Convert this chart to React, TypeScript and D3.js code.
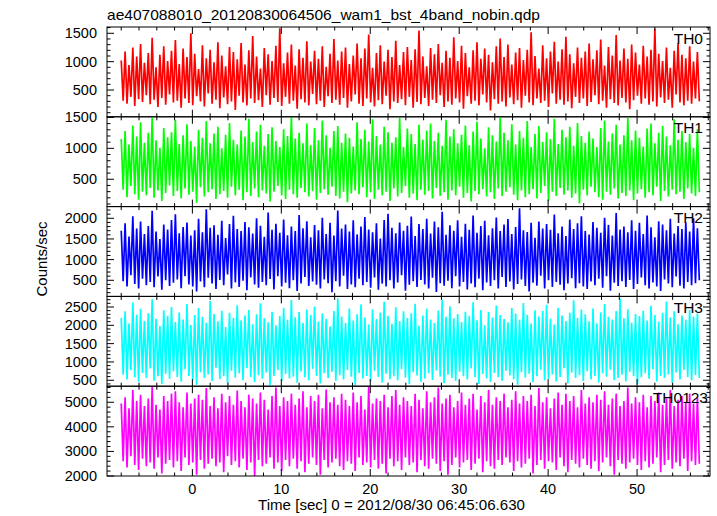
import { line, range, scaleLinear } from "d3";

const WIDTH = 717;
const HEIGHT = 516;
const PLOT = { left: 107, right: 710, top: 27, bottom: 476 };
const FONT = "'Liberation Sans', Arial, Helvetica, sans-serif";

const TITLE = "ae407088010_20120830064506_wam1_bst_4band_nobin.qdp";
const X_LABEL = "Time [sec] 0 = 2012/08/30 06:45:06.630";
const Y_LABEL = "Counts/sec";

const TIME_START = -8;
const TIME_END = 57;
const X_DOMAIN = [-9.6, 58.2];
const X_TICKS = [0, 10, 20, 30, 40, 50];

const BANDS = ["TH0", "TH1", "TH2", "TH3", "TH0123"];
const COLORS = ["#ff0000", "#00ff00", "#0000ff", "#00ffff", "#ff00ff"];
const Y_DOMAINS = [
  [28, 1611],
  [58, 1510],
  [110, 2283],
  [338, 2789],
  [2000, 5653],
];
const Y_TICKS = [
  [500, 1000, 1500],
  [500, 1000, 1500],
  [500, 1000, 1500, 2000],
  [500, 1000, 1500, 2000, 2500],
  [2000, 3000, 4000, 5000],
];
const Y_MINOR = [100, 100, 100, 100, 200];

// counts/sec, evenly spaced from -8 s to 57 s (read as the swing of the trace)
const TH0 = [
  1020, 310, 1180, 260, 940, 380, 1250, 220, 1090, 340,
  1310, 290, 980, 410, 1150, 250, 1420, 330, 900, 200,
  1120, 360, 1270, 240, 1010, 420, 1190, 280, 1380, 310,
  960, 190, 1230, 350, 1080, 270, 1500, 230, 1140, 390,
  870, 300, 1290, 210, 1060, 440, 1210, 260, 990, 330,
  1340, 180, 1110, 370, 920, 250, 1260, 300, 1170, 150,
  1040, 400, 1330, 280, 950, 230, 1200, 350, 1450, 270,
  1090, 320, 880, 200, 1240, 410, 1130, 240, 1010, 360,
  1280, 290, 1590, 220, 970, 380, 1160, 260, 1300, 310,
  930, 170, 1220, 340, 1070, 280, 1360, 230, 1000, 430,
  1190, 250, 1050, 310, 1270, 200, 910, 390, 1140, 270,
  1400, 330, 1020, 240, 1180, 360, 1250, 190, 960, 300,
  1110, 420, 1320, 260, 1060, 220, 1230, 350, 1480, 280,
  890, 210, 1150, 320, 1290, 250, 1000, 400, 1210, 160,
  1080, 300, 1370, 270, 940, 340, 1170, 230, 1260, 380,
  1030, 190, 1220, 290, 1550, 250, 1090, 360, 920, 220,
  1240, 330, 1130, 270, 1310, 410, 980, 200, 1190, 300,
  1070, 240, 1430, 350, 1010, 280, 1280, 170, 1150, 390,
  900, 260, 1200, 310, 1340, 230, 1050, 420, 1230, 280,
  1120, 140, 990, 340, 1270, 260, 1410, 300, 1080, 210,
  1300, 370, 950, 250, 1160, 320, 1240, 190, 1030, 400,
  1210, 280, 1520, 230, 1100, 350, 880, 270, 1290, 310,
  1060, 200, 1180, 440, 1350, 260, 1000, 330, 1220, 240,
  1440, 300, 1130, 180, 970, 380, 1250, 270, 1070, 350,
  1180, 220, 1320, 290, 1040, 410, 1200, 250, 1390, 310,
  930, 190, 1260, 340, 1110, 270, 1470, 230, 1020, 360,
  1230, 280, 1050, 160, 1300, 320, 1160, 400, 950, 260,
  1280, 350, 1090, 240, 1210, 300, 1580, 210, 1140, 370,
  1010, 270, 1250, 330, 890, 190, 1190, 420, 1330, 280,
  1120, 230, 1060, 310, 1270, 260, 1000, 350, 1170, 300,
];

const TH1 = [
  1150, 330, 1280, 210, 1060, 390, 1370, 260, 1190, 170,
  1420, 300, 1090, 240, 1250, 360, 1500, 200, 1130, 320,
  1010, 150, 1330, 280, 1180, 400, 1260, 230, 1460, 310,
  1070, 190, 1210, 350, 1390, 250, 1120, 300, 1030, 120,
  1300, 370, 1170, 220, 1440, 290, 1080, 340, 1240, 180,
  1350, 260, 1000, 310, 1220, 200, 1410, 380, 1140, 240,
  1060, 330, 1290, 160, 1190, 290, 1480, 230, 1100, 350,
  1270, 210, 1380, 320, 1040, 270, 1230, 140, 1340, 300,
  1120, 390, 1020, 240, 1310, 180, 1200, 330, 1510, 260,
  1160, 200, 1250, 360, 1080, 290, 1400, 220, 1050, 310,
  1330, 170, 1130, 280, 1450, 340, 1210, 250, 1010, 380,
  1280, 230, 1360, 190, 1090, 300, 1240, 130, 1170, 270,
  1030, 320, 1420, 260, 1150, 370, 1300, 210, 1110, 290,
  1470, 180, 1200, 330, 1060, 240, 1350, 300, 1260, 150,
  1090, 350, 1180, 220, 1490, 280, 1020, 390, 1320, 200,
  1230, 270, 1070, 160, 1380, 330, 1140, 250, 1290, 310,
  1400, 190, 1120, 360, 1250, 230, 1040, 290, 1460, 170,
  1190, 320, 1310, 240, 1080, 380, 1220, 200, 1370, 280,
  1050, 140, 1270, 310, 1430, 260, 1160, 340, 1000, 220,
  1340, 290, 1210, 180, 1110, 350, 1500, 230, 1250, 300,
  1130, 370, 1390, 250, 1060, 160, 1280, 320, 1170, 210,
  1440, 260, 1020, 340, 1230, 190, 1360, 280, 1100, 390,
  1260, 150, 1150, 300, 1480, 230, 1070, 360, 1300, 250,
  1180, 320, 1350, 200, 1040, 270, 1410, 110, 1200, 330,
  1090, 240, 1270, 380, 1160, 290, 1020, 210, 1330, 170,
  1450, 300, 1110, 250, 1240, 350, 1380, 190, 1060, 280,
  1210, 230, 1490, 320, 1130, 160, 1290, 270, 1170, 340,
  1030, 200, 1320, 290, 1400, 240, 1080, 380, 1250, 150,
  1360, 310, 1190, 220, 1050, 330, 1470, 260, 1140, 300,
  1280, 180, 1100, 350, 1230, 270, 1010, 230, 1310, 290,
];

const TH2 = [
  1700, 480, 1880, 350, 1560, 620, 2050, 410, 1750, 300,
  1920, 540, 1620, 380, 1810, 460, 2180, 330, 1680, 590,
  1500, 270, 1850, 500, 1730, 360, 1960, 440, 2100, 520,
  1640, 310, 1790, 600, 1900, 400, 1580, 350, 1710, 230,
  1990, 470, 1660, 330, 2220, 560, 1770, 420, 1830, 290,
  1600, 510, 1940, 380, 1520, 640, 1860, 300, 2060, 450,
  1740, 340, 1690, 490, 1910, 260, 1780, 570, 1630, 400,
  2000, 320, 1820, 460, 1550, 380, 2140, 530, 1720, 280,
  1870, 600, 1650, 350, 1970, 440, 1590, 310, 1800, 500,
  1690, 240, 2080, 420, 1760, 580, 1930, 360, 1540, 470,
  1840, 390, 1710, 300, 2010, 520, 1620, 430, 1890, 210,
  1580, 480, 2190, 350, 1750, 610, 1850, 290, 1680, 400,
  1950, 330, 1610, 540, 1800, 380, 2030, 460, 1730, 320,
  1660, 570, 1880, 270, 1510, 420, 1960, 350, 2110, 500,
  1770, 300, 1640, 450, 1900, 620, 1700, 250, 1820, 390,
  2040, 480, 1570, 340, 1860, 510, 1740, 400, 1990, 300,
  1630, 560, 1920, 220, 1780, 430, 2160, 370, 1600, 490,
  1830, 310, 1700, 600, 1950, 350, 1550, 460, 1870, 280,
  1720, 420, 2070, 330, 1650, 540, 1810, 260, 1940, 450,
  1590, 360, 1760, 500, 2020, 300, 1690, 580, 1850, 340,
  1980, 470, 1620, 280, 1790, 410, 2240, 520, 1710, 360,
  1670, 230, 1890, 440, 1530, 370, 1920, 610, 1750, 300,
  1860, 500, 1720, 340, 2090, 460, 1640, 390, 1800, 260,
  1570, 420, 1970, 550, 1740, 310, 1880, 430, 2050, 350,
  1690, 290, 1610, 470, 1910, 380, 1770, 540, 1650, 320,
  2010, 600, 1840, 250, 1580, 440, 2130, 360, 1730, 480,
  1800, 340, 1660, 510, 1950, 290, 1700, 410, 1890, 570,
  1620, 380, 2070, 300, 1780, 450, 1540, 350, 1930, 240,
  1850, 520, 1710, 420, 1990, 330, 1630, 590, 1810, 370,
  1740, 300, 1900, 460, 1680, 380, 2000, 430, 1760, 500,
];

const TH3 = [
  2200, 650, 2380, 520, 2050, 780, 2620, 580, 2290, 460,
  2450, 700, 2120, 560, 2330, 820, 2710, 490, 2180, 610,
  1980, 400, 2410, 680, 2260, 540, 2500, 750, 2090, 590,
  2350, 470, 2160, 800, 2580, 620, 2010, 510, 2280, 380,
  2470, 720, 2230, 560, 2070, 660, 2660, 480, 2310, 840,
  2110, 530, 2400, 610, 1950, 420, 2340, 760, 2200, 570,
  2550, 690, 2140, 500, 2270, 830, 2420, 590, 2030, 450,
  2300, 640, 2600, 540, 2190, 710, 2080, 370, 2370, 620,
  2000, 780, 2250, 480, 2480, 670, 2150, 550, 2690, 600,
  2220, 430, 2360, 740, 2060, 580, 2430, 500, 2280, 810,
  2510, 620, 2100, 410, 2320, 690, 2180, 560, 1970, 730,
  2390, 490, 2740, 640, 2240, 520, 2060, 780, 2460, 600,
  2130, 360, 2300, 700, 2570, 550, 2210, 620, 2020, 470,
  2440, 760, 2170, 590, 2350, 440, 2640, 680, 2260, 530,
  2040, 610, 2490, 500, 2120, 800, 2380, 570, 2200, 390,
  2330, 720, 2590, 630, 1990, 460, 2270, 540, 2450, 690,
  2160, 510, 2060, 770, 2400, 600, 2700, 420, 2230, 650,
  2520, 560, 2190, 480, 2310, 730, 2090, 610, 2370, 520,
  2250, 820, 2630, 590, 2140, 400, 2420, 670, 2000, 550,
  2360, 460, 2210, 700, 2540, 580, 2280, 490, 2170, 760,
  2080, 630, 2470, 530, 2320, 380, 2150, 720, 2610, 570,
  2290, 680, 2050, 450, 2410, 610, 2240, 790, 2390, 500,
  2560, 540, 2180, 660, 2020, 470, 2480, 590, 2270, 830,
  2120, 410, 2340, 710, 2680, 560, 2200, 640, 2430, 480,
  2300, 750, 2110, 520, 2460, 620, 2050, 440, 2350, 690,
  2580, 600, 2230, 790, 2160, 500, 2390, 560, 2730, 650,
  2190, 470, 2440, 730, 2070, 610, 2310, 390, 2250, 580,
  2400, 690, 2130, 540, 2530, 800, 2280, 470, 2100, 620,
  2340, 560, 2650, 660, 2210, 430, 2380, 710, 2030, 520,
  2270, 780, 2150, 590, 2420, 500, 2240, 640, 2320, 560,
];

const TH0123 = [
  4950, 2600, 5200, 2350, 4750, 2800, 5500, 2450, 5050, 2250,
  5300, 2700, 4850, 2400, 5150, 2550, 5620, 2300, 4900, 2750,
  4700, 2100, 5250, 2500, 5050, 2650, 5350, 2350, 5450, 2600,
  5000, 2200, 4800, 2750, 5400, 2450, 4950, 2550, 5150, 2050,
  5300, 2650, 5100, 2300, 5580, 2500, 4850, 2700, 5200, 2400,
  4750, 2550, 5350, 2150, 5000, 2800, 5250, 2450, 4900, 2600,
  5480, 2350, 5050, 2700, 4800, 2250, 5300, 2550, 5150, 2000,
  4950, 2650, 5400, 2400, 5100, 2500, 4700, 2750, 5250, 2300,
  5600, 2550, 4850, 2200, 5200, 2650, 5050, 2400, 5350, 2700,
  4900, 2300, 5150, 2600, 5450, 2150, 4800, 2500, 5250, 2750,
  5050, 2450, 5300, 2050, 4750, 2650, 5520, 2350, 5000, 2550,
  5200, 2700, 4900, 2400, 5350, 2250, 5100, 2600, 4850, 2500,
  5400, 2200, 5000, 2750, 5250, 2450, 4700, 2550, 5640, 2350,
  4950, 2650, 5150, 2300, 5050, 2500, 5300, 2100, 4800, 2700,
  5250, 2400, 5500, 2600, 4900, 2250, 5200, 2750, 5050, 2450,
  4850, 2550, 5350, 2150, 5100, 2650, 4750, 2400, 5450, 2300,
  5000, 2700, 5200, 2500, 5600, 2200, 4950, 2600, 5150, 2050,
  5300, 2450, 4800, 2750, 5050, 2350, 5400, 2550, 4900, 2650,
  5150, 2250, 5350, 2500, 4700, 2700, 5250, 2150, 5000, 2600,
  5500, 2400, 4900, 2300, 5200, 2650, 5050, 2450, 5350, 2750,
  4800, 2550, 5100, 2200, 5450, 2600, 4950, 2350, 5250, 2500,
  5050, 2700, 5300, 2100, 4850, 2450, 5580, 2650, 5000, 2300,
  5200, 2600, 4750, 2550, 5150, 2250, 5400, 2750, 4900, 2400,
  5350, 2150, 5050, 2650, 5250, 2500, 4800, 2350, 5500, 2700,
  4950, 2450, 5200, 2300, 5000, 2600, 5300, 2200, 5100, 2550,
  5450, 2750, 4900, 2400, 5150, 2050, 5350, 2650, 4850, 2500,
  5050, 2300, 5600, 2550, 4950, 2700, 5200, 2450, 5000, 2250,
  5300, 2600, 4800, 2350, 5250, 2500, 5050, 2750, 5400, 2150,
  4900, 2450, 5150, 2650, 5500, 2300, 4850, 2550, 5100, 2400,
  5250, 2700, 5000, 2200, 5350, 2600, 4950, 2450, 5200, 2500,
];

const SERIES = [TH0, TH1, TH2, TH3, TH0123];

export default function App() {
  const panelHeight = (PLOT.bottom - PLOT.top) / BANDS.length;
  const x = scaleLinear().domain(X_DOMAIN).range([PLOT.left, PLOT.right]);
  const xMinor = range(-8, 59, 2);

  return (
    <svg
      width={WIDTH}
      height={HEIGHT}
      viewBox={`0 0 ${WIDTH} ${HEIGHT}`}
      style={{ position: "absolute", left: 0, top: 0, background: "#fff" }}
      fontFamily={FONT}
    >
      <text
        x={107}
        y={20}
        fontSize={15}
        fill="#000"
        textLength={433}
        lengthAdjust="spacingAndGlyphs"
      >
        {TITLE}
      </text>

      {SERIES.map((values, p) => {
        const top = PLOT.top + p * panelHeight;
        const bottom = top + panelHeight;
        const y = scaleLinear().domain(Y_DOMAINS[p]).range([bottom, top]);
        const step = (TIME_END - TIME_START) / (values.length - 1);
        const path = line<number>()
          .x((_, i) => x(TIME_START + i * step))
          .y((d) => y(d))(values);
        const [lo, hi] = Y_DOMAINS[p];
        const minor = range(Math.ceil(lo / Y_MINOR[p]) * Y_MINOR[p], hi, Y_MINOR[p]);
        const isMajor = (v: number) => Y_TICKS[p].includes(v);
        const long = BANDS[p].length > 3;

        return (
          <g key={BANDS[p]}>
            <clipPath id={`clip-${p}`}>
              <rect x={PLOT.left} y={top} width={PLOT.right - PLOT.left} height={panelHeight} />
            </clipPath>
            <path
              d={path ?? ""}
              fill="none"
              stroke={COLORS[p]}
              strokeWidth={1.7}
              strokeLinejoin="bevel"
              clipPath={`url(#clip-${p})`}
            />
            {minor.map((v) => {
              const len = isMajor(v) ? 7 : 3.5;
              return (
                <g key={`y${v}`} stroke="#000" strokeWidth={1}>
                  <line x1={PLOT.left} x2={PLOT.left + len} y1={y(v)} y2={y(v)} />
                  <line x1={PLOT.right} x2={PLOT.right - len} y1={y(v)} y2={y(v)} />
                </g>
              );
            })}
            {xMinor.map((t) => {
              const len = t % 10 === 0 ? 7 : 3.5;
              return (
                <g key={`x${t}`} stroke="#000" strokeWidth={1}>
                  <line x1={x(t)} x2={x(t)} y1={top} y2={top + len} />
                  <line x1={x(t)} x2={x(t)} y1={bottom} y2={bottom - len} />
                </g>
              );
            })}
            {Y_TICKS[p].map((v) => (
              <text
                key={`yl${v}`}
                x={97}
                y={y(v) + 5}
                fontSize={14.5}
                textAnchor="end"
                fill="#000"
              >
                {v}
              </text>
            ))}
            <text
              x={long ? 708 : 703}
              y={top + 16.5}
              fontSize={15.5}
              textAnchor="end"
              fill="#000"
            >
              {BANDS[p]}
            </text>
            <rect
              x={PLOT.left}
              y={top}
              width={PLOT.right - PLOT.left}
              height={panelHeight}
              fill="none"
              stroke="#000"
              strokeWidth={1}
            />
          </g>
        );
      })}

      {X_TICKS.map((t) => (
        <text key={`xl${t}`} x={x(t)} y={493.5} fontSize={14.5} textAnchor="middle" fill="#000">
          {t}
        </text>
      ))}
      <text
        x={391.5}
        y={510}
        fontSize={15}
        textAnchor="middle"
        fill="#000"
        textLength={267}
        lengthAdjust="spacingAndGlyphs"
      >
        {X_LABEL}
      </text>
      <text
        transform={`translate(46.5, 259) rotate(-90)`}
        fontSize={15}
        textAnchor="middle"
        fill="#000"
        textLength={75}
        lengthAdjust="spacingAndGlyphs"
      >
        {Y_LABEL}
      </text>
    </svg>
  );
}
